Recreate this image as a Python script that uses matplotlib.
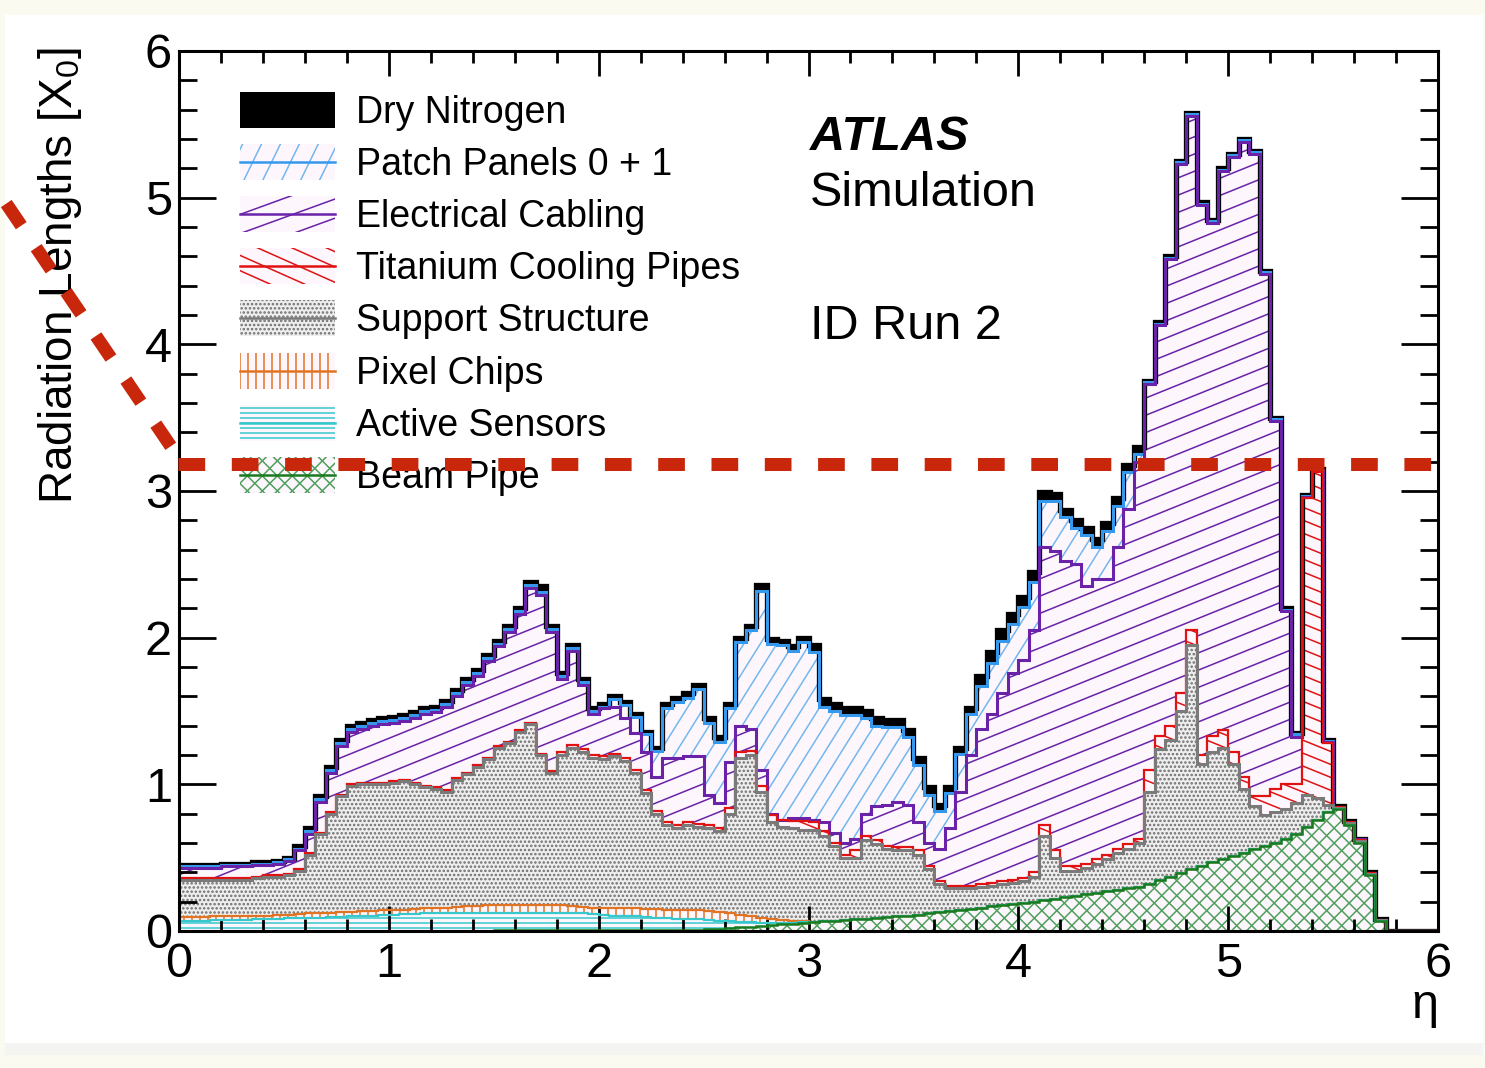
import numpy as np
import matplotlib
matplotlib.use("Agg")
import matplotlib.pyplot as plt
from matplotlib.collections import LineCollection
from matplotlib.patches import Rectangle, Polygon
from matplotlib.transforms import IdentityTransform
from matplotlib.lines import Line2D
from matplotlib.ticker import MultipleLocator, FormatStrFormatter

plt.rcParams['font.family'] = ['Liberation Sans', 'DejaVu Sans']
plt.rcParams['mathtext.fontset'] = 'custom'
plt.rcParams['mathtext.rm'] = 'Liberation Sans'
plt.rcParams['mathtext.it'] = 'Liberation Sans:italic'
plt.rcParams['hatch.linewidth'] = 1.2

# ---------------- data: cumulative stacked tops, bins of 0.05 in eta ----------------
eta_edges = np.round(np.arange(0, 6.0001, 0.05), 3)

beam_top = [
    0.002,0.002,0.002,0.002,0.002,0.002,0.002,0.002,0.002,0.002,
    0.002,0.002,0.002,0.002,0.002,0.002,0.002,0.002,0.002,0.002,
    0.003,0.003,0.003,0.003,0.003,0.003,0.003,0.003,0.003,0.003,
    0.004,0.004,0.004,0.004,0.004,0.004,0.004,0.004,0.004,0.004,
    0.005,0.005,0.005,0.006,0.006,0.006,0.007,0.007,0.008,0.009,
    0.012,0.016,0.02,0.025,0.03,0.035,0.04,0.045,0.05,0.055,
    0.06,0.065,0.07,0.075,0.08,0.085,0.09,0.095,0.10,0.105,
    0.11,0.12,0.13,0.135,0.14,0.15,0.16,0.17,0.175,0.185,
    0.19,0.20,0.21,0.22,0.23,0.24,0.25,0.26,0.27,0.28,
    0.29,0.30,0.32,0.345,0.37,0.395,0.42,0.445,0.47,0.49,
    0.51,0.535,0.56,0.58,0.60,0.625,0.66,0.71,0.76,0.81,
    0.83,0.72,0.60,0.38,0.07,0,0,0,0,0]

# sensors / chips only contribute for eta < 3 (beyond: equal to beam pipe top)
sensors_top_central = [
    0.07,0.07,0.07,0.072,0.074,0.076,0.078,0.08,0.082,0.084,
    0.086,0.088,0.09,0.092,0.095,0.098,0.10,0.10,0.105,0.11,
    0.11,0.115,0.115,0.12,0.12,0.12,0.12,0.125,0.125,0.125,
    0.125,0.125,0.125,0.125,0.125,0.125,0.12,0.12,0.12,0.115,
    0.11,0.105,0.10,0.10,0.095,0.09,0.09,0.085,0.085,0.08,
    0.075,0.07,0.065,0.06,0.06,0.055,0.055,0.055,0.055,0.06]

chips_top_central = [
    0.095,0.095,0.097,0.10,0.10,0.10,0.10,0.105,0.105,0.11,
    0.11,0.115,0.12,0.12,0.125,0.13,0.13,0.135,0.135,0.14,
    0.14,0.145,0.15,0.155,0.16,0.16,0.165,0.17,0.17,0.175,
    0.175,0.18,0.18,0.18,0.18,0.18,0.175,0.17,0.165,0.16,
    0.16,0.16,0.155,0.155,0.15,0.15,0.145,0.145,0.14,0.14,
    0.135,0.13,0.12,0.11,0.10,0.09,0.08,0.075,0.07,0.065]

support_top = [
    0.35,0.35,0.35,0.35,0.35,0.35,0.35,0.36,0.37,0.37,
    0.38,0.41,0.52,0.66,0.80,0.92,0.99,1.00,1.00,1.00,
    1.01,1.02,1.00,0.98,0.97,0.95,1.03,1.07,1.12,1.17,
    1.25,1.28,1.36,1.41,1.20,1.08,1.20,1.25,1.22,1.18,
    1.17,1.19,1.16,1.08,0.94,0.80,0.72,0.70,0.72,0.71,
    0.70,0.68,0.80,1.18,1.20,0.95,0.74,0.71,0.70,0.69,
    0.69,0.65,0.58,0.50,0.50,0.62,0.59,0.56,0.55,0.55,
    0.52,0.42,0.32,0.29,0.29,0.29,0.30,0.31,0.32,0.33,
    0.34,0.37,0.65,0.50,0.41,0.41,0.43,0.46,0.49,0.53,
    0.56,0.60,0.95,1.24,1.30,1.50,1.95,1.14,1.22,1.25,
    1.14,0.97,0.85,0.79,0.81,0.83,0.87,0.93,0.91,0.86,
    0.84,0.735,0.615,0.39,0.072,0,0,0,0,0]

cooling_top = [
    0.36,0.36,0.36,0.36,0.36,0.36,0.36,0.37,0.38,0.38,
    0.39,0.42,0.53,0.67,0.81,0.93,1.00,1.01,1.01,1.01,
    1.02,1.03,1.01,0.99,0.98,0.96,1.04,1.08,1.13,1.18,
    1.26,1.29,1.37,1.42,1.21,1.09,1.22,1.27,1.24,1.20,
    1.19,1.21,1.18,1.10,0.96,0.82,0.74,0.72,0.74,0.73,
    0.72,0.70,0.84,1.22,1.23,0.99,0.79,0.76,0.75,0.75,
    0.74,0.68,0.60,0.52,0.55,0.65,0.62,0.58,0.57,0.57,
    0.55,0.44,0.34,0.31,0.31,0.31,0.32,0.33,0.34,0.35,
    0.36,0.40,0.72,0.55,0.44,0.44,0.46,0.49,0.52,0.56,
    0.59,0.63,1.10,1.33,1.40,1.62,2.05,1.20,1.33,1.37,
    1.22,1.05,0.92,0.92,0.97,1.00,1.00,2.95,3.13,1.28,
    0.845,0.74,0.62,0.395,0.075,0,0,0,0,0]

cabling_top = [
    0.43,0.43,0.43,0.43,0.44,0.44,0.44,0.45,0.45,0.46,
    0.48,0.55,0.66,0.88,1.08,1.26,1.36,1.38,1.40,1.41,
    1.42,1.43,1.45,1.48,1.49,1.53,1.60,1.68,1.74,1.84,
    1.94,2.04,2.16,2.34,2.29,2.04,1.72,1.91,1.68,1.48,
    1.52,1.53,1.45,1.35,1.22,1.05,1.18,1.18,1.19,1.19,
    0.93,0.87,1.15,1.40,1.38,1.10,0.80,0.76,0.77,0.77,
    0.76,0.74,0.67,0.60,0.63,0.80,0.85,0.86,0.88,0.86,
    0.74,0.60,0.56,0.70,0.95,1.20,1.38,1.48,1.62,1.76,
    1.85,2.05,2.62,2.59,2.52,2.50,2.35,2.40,2.40,2.62,
    2.88,3.20,3.73,4.13,4.58,5.23,5.56,4.95,4.83,5.18,
    5.28,5.38,5.30,4.48,3.48,2.18,1.32,2.96,3.14,1.29,
    0.848,0.745,0.625,0.398,0.078,0,0,0,0,0]

patch_top = [
    0.44,0.44,0.44,0.44,0.45,0.45,0.45,0.46,0.46,0.47,
    0.49,0.56,0.68,0.90,1.10,1.28,1.38,1.40,1.42,1.43,
    1.44,1.45,1.47,1.50,1.51,1.55,1.62,1.70,1.76,1.86,
    1.96,2.06,2.18,2.36,2.31,2.06,1.74,1.93,1.70,1.50,
    1.53,1.58,1.54,1.46,1.34,1.23,1.52,1.56,1.59,1.65,
    1.42,1.29,1.52,1.97,2.05,2.32,1.96,1.95,1.91,1.97,
    1.90,1.53,1.50,1.47,1.47,1.45,1.40,1.39,1.39,1.32,
    1.13,0.93,0.82,0.94,1.21,1.48,1.67,1.83,1.98,2.09,
    2.21,2.38,2.93,2.93,2.82,2.75,2.70,2.62,2.73,2.90,
    3.13,3.25,3.74,4.14,4.59,5.24,5.57,4.96,4.84,5.19,
    5.29,5.39,5.31,4.49,3.49,2.19,1.34,2.965,3.145,1.295,
    0.848,0.745,0.625,0.398,0.078,0,0,0,0,0]

total_top = [
    0.45,0.45,0.45,0.45,0.46,0.46,0.46,0.47,0.47,0.48,
    0.50,0.58,0.70,0.92,1.12,1.30,1.40,1.42,1.44,1.45,
    1.46,1.47,1.49,1.52,1.53,1.57,1.64,1.72,1.78,1.88,
    1.98,2.08,2.20,2.38,2.35,2.08,1.76,1.95,1.72,1.52,
    1.55,1.60,1.56,1.48,1.36,1.25,1.55,1.59,1.62,1.68,
    1.45,1.32,1.55,2.00,2.08,2.36,1.99,1.98,1.94,2.00,
    1.95,1.58,1.55,1.52,1.52,1.50,1.45,1.44,1.44,1.37,
    1.18,0.98,0.86,0.98,1.25,1.52,1.74,1.90,2.05,2.16,
    2.28,2.45,2.99,2.98,2.87,2.80,2.75,2.67,2.78,2.95,
    3.18,3.30,3.75,4.15,4.60,5.25,5.58,4.97,4.85,5.20,
    5.30,5.40,5.32,4.50,3.50,2.20,1.35,2.97,3.15,1.30,
    0.85,0.75,0.63,0.40,0.08,0,0,0,0,0]

labels = ["Dry Nitrogen", "Patch Panels 0 + 1", "Electrical Cabling",
          "Titanium Cooling Pipes", "Support Structure", "Pixel Chips",
          "Active Sensors", "Beam Pipe"]

beam = np.array(beam_top)
sensors = np.concatenate([sensors_top_central, beam[len(sensors_top_central):]])
chips = np.concatenate([chips_top_central, beam[len(chips_top_central):]])
support = np.array(support_top)
cooling = np.array(cooling_top)
cabling = np.array(cabling_top)
patch = np.array(patch_top)
total = np.array(total_top)
zero = np.zeros_like(beam)

# ---------------- figure ----------------
W, H = 1485, 1068
fig = plt.figure(figsize=(W / 100, H / 100), dpi=100, facecolor='#fafaf0')
fig.add_artist(Rectangle((5 / W, 1 - 1043 / H), 1478 / W, 1028 / H, transform=fig.transFigure,
                         facecolor='white', edgecolor='none', zorder=-5))
fig.add_artist(Rectangle((5 / W, 1 - 1055 / H), 1478 / W, 12 / H, transform=fig.transFigure,
                         facecolor='#f4f4f2', edgecolor='none', zorder=-5))

ax = fig.add_axes([179 / W, 1 - 931 / H, 1259 / W, 880 / H])
ax.set_xlim(0, 6)
ax.set_ylim(0, 6)
ax.set_facecolor('white')

PINK = '#fdf7fd'
C_GREEN, C_GREEN_H = '#187a1c', '#4f9f5c'
C_CYAN = '#36c8cc'
C_ORANGE = '#e07424'
C_GRAY = '#7a7a7a'
C_RED = '#e01212'
C_PURPLE = '#6a22a8'
C_BLUE, C_BLUE_H = '#3598ec', '#73b6f0'


def hatch_segments(angle, spacing, bbox, phase=0.0):
    x0, y0, x1, y1 = bbox
    th = np.deg2rad(angle)
    d = np.array([np.cos(th), np.sin(th)])
    n = np.array([-np.sin(th), np.cos(th)])
    corners = np.array([[x0, y0], [x0, y1], [x1, y0], [x1, y1]])
    proj = corners @ n
    kmin = int(np.floor(proj.min() / spacing)) - 1
    kmax = int(np.ceil(proj.max() / spacing)) + 1
    L = np.hypot(x1 - x0, y1 - y0)
    c = np.array([(x0 + x1) / 2, (y0 + y1) / 2])
    t0 = c @ d
    segs = []
    for k in range(kmin, kmax + 1):
        base = n * (k * spacing + phase) + d * t0
        segs.append([base - d * L, base + d * L])
    return segs


def band_poly(lo, hi):
    xs = np.repeat(eta_edges, 2)[1:-1]
    top = np.repeat(hi, 2)
    bot = np.repeat(lo, 2)
    verts = np.concatenate([np.column_stack([xs, top]), np.column_stack([xs[::-1], bot[::-1]])])
    return verts


fig.canvas.draw()
axbb = ax.bbox.extents  # display coords
big = (axbb[0] - 20, axbb[1] - 20, axbb[2] + 20, axbb[3] + 20)

layers = [
    (zero, beam, PINK, [(45, 10.6, C_GREEN_H), (-45, 10.6, C_GREEN_H)], None),
    (beam, sensors, PINK, [(0, 5.0, C_CYAN)], None),
    (sensors, chips, PINK, [(90, 8.0, C_ORANGE)], None),
    (chips, support, '#eeeeee', [], '....'),
    (support, cooling, PINK, [(-22, 12.0, C_RED)], None),
    (cooling, cabling, PINK, [(22, 16.0, C_PURPLE)], None),
    (cabling, patch, PINK, [(58, 14.0, C_BLUE_H)], None),
    (patch, total, 'black', [], None),
]

for lo, hi, fc, hatches, mplhatch in layers:
    verts = band_poly(lo, hi)
    if mplhatch:
        poly = Polygon(verts, closed=True, transform=ax.transData, facecolor=fc,
                       edgecolor='#6e6e6e', lw=0, hatch=mplhatch, zorder=1)
    else:
        poly = Polygon(verts, closed=True, transform=ax.transData, facecolor=fc,
                       edgecolor='none', lw=0, zorder=1)
    ax.add_patch(poly)
    for ang, sp, col in hatches:
        lc = LineCollection(hatch_segments(ang, sp, big), colors=col, linewidths=1.1,
                            transform=IdentityTransform(), zorder=1.5)
        ax.add_collection(lc, autolim=False)
        lc.set_clip_path(poly)

outlines = [
    (total, 'black', 3.8),
    (patch, C_BLUE, 2.2),
    (cabling, C_PURPLE, 2.2),
    (cooling, C_RED, 1.6),
    (support, C_GRAY, 2.2),
    (chips, C_ORANGE, 1.6),
    (sensors, C_CYAN, 1.6),
    (beam, C_GREEN, 1.8),
]
for k, (vals, col, lw) in enumerate(outlines):
    ax.stairs(vals, eta_edges, baseline=None, color=col, lw=lw, zorder=2 + k * 0.1)

# ---------------- axes styling ----------------
for sp in ax.spines.values():
    sp.set_linewidth(2.2)
    sp.set_zorder(5)
ax.xaxis.set_major_locator(MultipleLocator(1))
ax.xaxis.set_minor_locator(MultipleLocator(0.2))
ax.yaxis.set_major_locator(MultipleLocator(1))
ax.yaxis.set_minor_locator(MultipleLocator(0.2))
ax.xaxis.set_major_formatter(FormatStrFormatter('%d'))
ax.yaxis.set_major_formatter(FormatStrFormatter('%d'))
ax.tick_params(axis='x', which='major', direction='in', length=18, width=2, top=True,
               bottom=True, labelsize=35, pad=8)
ax.tick_params(axis='x', which='minor', direction='in', length=8.6, width=2, top=True, bottom=True)
ax.tick_params(axis='y', which='major', direction='in', length=26.6, width=2, left=True,
               right=True, labelsize=35, pad=5)
ax.tick_params(axis='y', which='minor', direction='in', length=13, width=2, left=True, right=True)
for t in ax.get_xticklines() + ax.get_yticklines():
    t.set_zorder(6)

fig.text(72 / W, 1 - 47 / H, 'Radiation Lengths [X$_{\\mathrm{0}}$]', rotation=90,
         rotation_mode='anchor', ha='right', va='baseline', fontsize=33)
fig.text(1438 / W, 1 - 1018 / H, 'η', ha='right', va='baseline', fontsize=35)

fig.text(810 / W, 1 - 150 / H, 'ATLAS', fontsize=35, fontweight='bold', fontstyle='italic')
fig.text(810 / W, 1 - 206 / H, 'Simulation', fontsize=35)
fig.text(810 / W, 1 - 339 / H, 'ID Run 2', fontsize=35)

# ---------------- legend (drawn in pixel space) ----------------
leg_specs = [
    ('black', [], None, None),
    (PINK, [(64, 17.0, C_BLUE_H)], C_BLUE, None),
    (PINK, [(20, 18.0, C_PURPLE)], C_PURPLE, None),
    (PINK, [(-24, 14.0, C_RED)], C_RED, None),
    ('#eeeeee', [], C_GRAY, '....'),
    (PINK, [(90, 8.0, C_ORANGE)], C_ORANGE, None),
    (PINK, [(0, 5.0, C_CYAN)], C_CYAN, None),
    (PINK, [(45, 10.6, C_GREEN_H), (-45, 10.6, C_GREEN_H)], C_GREEN, None),
]
for i, (lab, (fc, hatches, linecol, mplh)) in enumerate(zip(labels, leg_specs)):
    yc = 110 + 52.1 * i
    x0, x1 = 240, 335
    ytop, ybot = yc - 18, yc + 18
    rect = Rectangle((x0, H - ybot), x1 - x0, ybot - ytop, transform=IdentityTransform(),
                     facecolor=fc, edgecolor='#6e6e6e' if mplh else 'none', lw=0,
                     hatch=mplh, zorder=7)
    ax.add_artist(rect)
    for ang, sp, col in hatches:
        lc = LineCollection(hatch_segments(ang, sp, (x0 - 5, H - ybot - 5, x1 + 5, H - ytop + 5)),
                            colors=col, linewidths=1.1, transform=IdentityTransform(), zorder=7.5)
        ax.add_collection(lc, autolim=False)
        lc.set_clip_path(rect)
    if linecol is not None:
        ax.add_line(Line2D([x0, x1], [H - yc, H - yc], color=linecol, lw=1.8,
                           transform=IdentityTransform(), zorder=8))
    fig.text(356 / W, 1 - (yc + 13) / H, lab, fontsize=27, va='baseline', ha='left')

# ---------------- red dashed annotation overlay ----------------
RED_ANN = '#c8270b'
lw_px = 13.0
fig.add_artist(Line2D([178 / W, 1432 / W], [1 - 464 / H, 1 - 464 / H], transform=fig.transFigure,
                      color=RED_ANN, lw=lw_px * 0.72,
                      ls=(0, (26.7 / lw_px, 26.6 / lw_px)), dash_capstyle='butt', zorder=20))
fig.add_artist(Line2D([-9.7 / W, 176 / W], [1 - 180 / H, 1 - 454 / H], transform=fig.transFigure,
                      color=RED_ANN, lw=lw_px * 0.72,
                      ls=(40.35 / lw_px, (26.7 / lw_px, 26.6 / lw_px)), dash_capstyle='butt',
                      zorder=20))

fig.savefig('out.png', dpi=100, facecolor=fig.get_facecolor())
